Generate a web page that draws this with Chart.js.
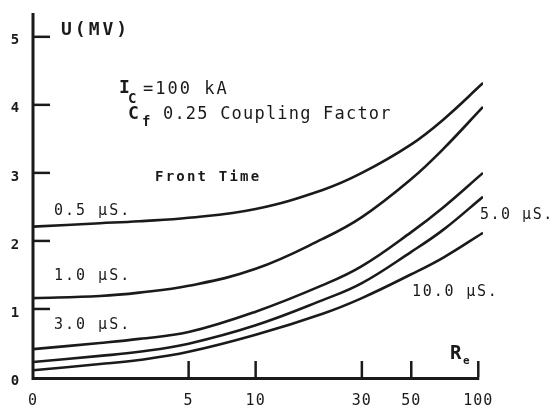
<!DOCTYPE html>
<html>
<head>
<meta charset="utf-8">
<script src="https://cdn.jsdelivr.net/npm/chart.js@4/dist/chart.umd.min.js"></script>
<style>
  html, body { margin: 0; padding: 0; background: #fff; }
  #wrap { width: 555px; height: 414px; }
</style>
</head>
<body>
<div id="wrap"><canvas id="chart" width="555" height="414"></canvas></div>
<script>
// R (ohm) sample points and U (MV) for each front time
const resistance = [1, 2, 3, 5, 10, 20, 30, 50, 70, 105];
const front05 = [2.21, 2.26, 2.29, 2.34, 2.47, 2.75, 3.00, 3.42, 3.79, 4.32];
const front10 = [1.16, 1.19, 1.24, 1.34, 1.59, 2.03, 2.35, 2.91, 3.36, 3.97];
const front30 = [0.41, 0.50, 0.56, 0.66, 0.96, 1.35, 1.63, 2.13, 2.50, 3.00];
const front50 = [0.22, 0.31, 0.37, 0.49, 0.76, 1.13, 1.38, 1.84, 2.17, 2.65];
const front100 = [0.10, 0.19, 0.25, 0.37, 0.62, 0.93, 1.16, 1.51, 1.76, 2.12];

const xTicks = [1, 5, 10, 30, 50, 100];
const xTickLabels = ['0', '5', '10', '30', '50', '100'];
const yTicks = [0, 1, 2, 3, 4, 5];

const seriesNames = ['0.5 μS.', '1.0 μS.', '3.0 μS.', '5.0 μS.', '10.0 μS.'];
const seriesValues = [front05, front10, front30, front50, front100];

const ink = '#1a1a1a';
const mono = '"DejaVu Sans Mono", "Liberation Mono", monospace';

function toPoints(vals) {
  return resistance.map((r, i) => ({ x: r, y: vals[i] }));
}

function text(ctx, str, x, y, font, spacing) {
  ctx.font = font;
  ctx.letterSpacing = (spacing || 0) + 'px';
  ctx.fillText(str, x, y);
}

// hand-drawn style axes, inward ticks and labels
const sketchAxes = {
  id: 'sketchAxes',
  afterDraw(chart) {
    const { ctx, scales: { x, y } } = chart;
    const x0 = x.getPixelForValue(1);
    const x1 = x.getPixelForValue(100);
    const y0 = y.getPixelForValue(0);
    ctx.save();
    ctx.strokeStyle = ink;
    ctx.fillStyle = ink;
    ctx.lineCap = 'butt';

    // axis lines
    ctx.lineWidth = 3;
    ctx.beginPath();
    ctx.moveTo(x0, y.getPixelForValue(5.35));
    ctx.lineTo(x0, y0 + 1.5);
    ctx.lineTo(x1 + 1, y0 + 1.5);
    ctx.stroke();

    // y ticks pointing right
    ctx.lineWidth = 2.5;
    yTicks.forEach(v => {
      if (v === 0) return;
      const py = y.getPixelForValue(v);
      ctx.beginPath();
      ctx.moveTo(x0, py);
      ctx.lineTo(x0 + 17, py);
      ctx.stroke();
    });
    // x ticks pointing up
    xTicks.forEach(v => {
      if (v === 1) return;
      const px = x.getPixelForValue(v);
      ctx.beginPath();
      ctx.moveTo(px, y0);
      ctx.lineTo(px, y0 - 16);
      ctx.stroke();
    });

    ctx.textAlign = 'center';
    ctx.textBaseline = 'middle';
    yTicks.forEach(v => {
      text(ctx, String(v), 15, y.getPixelForValue(v) + 4, 'bold 14px ' + mono);
    });
    xTicks.forEach((v, i) => {
      text(ctx, xTickLabels[i], x.getPixelForValue(v), 401, '15px ' + mono, 1);
    });

    // axis titles
    ctx.textAlign = 'left';
    text(ctx, 'U(MV)', 61, 30, 'bold 18px ' + mono, 3);
    text(ctx, 'R', 450, 354, 'bold 19px ' + mono);
    text(ctx, 'e', 463, 361, 'bold 11px ' + mono);

    // parameters
    text(ctx, 'I', 119, 88, 'bold 18px ' + mono);
    text(ctx, 'C', 128, 99, 'bold 14px ' + mono);
    text(ctx, '=100 kA', 143, 90, '17px ' + mono, 2);
    text(ctx, 'C', 128, 114, 'bold 18px ' + mono);
    text(ctx, 'f', 142, 122, 'bold 14px ' + mono);
    text(ctx, '0.25 Coupling Factor', 163, 115, '17px ' + mono, 1.2);

    text(ctx, 'Front Time', 155, 177, 'bold 14px ' + mono, 2.2);

    // curve labels
    const lf = '15px ' + mono;
    text(ctx, seriesNames[0], 54, 211, lf, 2);
    text(ctx, seriesNames[1], 54, 276, lf, 2);
    text(ctx, seriesNames[2], 54, 325, lf, 2);
    text(ctx, seriesNames[3], 480, 215, lf, 1.5);
    text(ctx, seriesNames[4], 412, 292, lf, 1.8);
    ctx.restore();
  }
};

const ctx = document.getElementById('chart');
new Chart(ctx, {
  type: 'line',
  data: {
    datasets: seriesValues.map((vals, i) => ({
      label: seriesNames[i],
      data: toPoints(vals),
      borderColor: ink,
      borderWidth: 2.6,
      pointRadius: 0,
      fill: false,
      tension: 0.4
    }))
  },
  options: {
    responsive: false,
    animation: false,
    layout: {
      padding: { left: 33, right: 72, top: 13, bottom: 37 }
    },
    plugins: {
      legend: { display: false },
      tooltip: { enabled: false }
    },
    scales: {
      x: { type: 'logarithmic', min: 1, max: 105, display: false },
      y: { type: 'linear', min: 0, max: 5.35, display: false }
    }
  },
  plugins: [sketchAxes]
});
</script>
</body>
</html>
